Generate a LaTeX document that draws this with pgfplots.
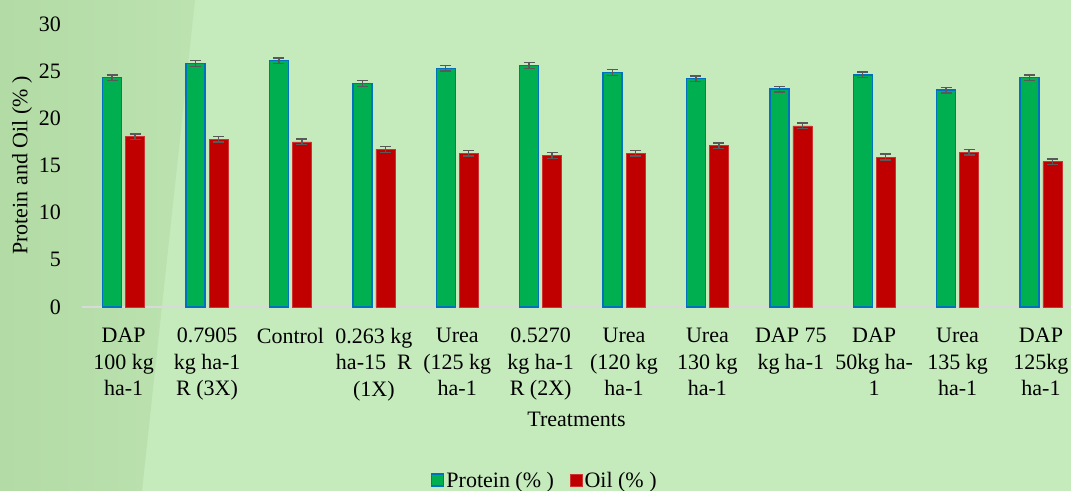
\documentclass[border=0pt]{standalone}
\usepackage{fontspec}
\setmainfont{Liberation Serif}
\usepackage{pgfplots}
\usepackage{pgfplotstable}
\pgfplotsset{compat=1.18}

\definecolor{protgreen}{HTML}{00B050}
\definecolor{protblue}{HTML}{0070C0}
\definecolor{oilred}{HTML}{C00000}
\definecolor{bgbase}{HTML}{C5EBBD}
\definecolor{bgdark}{HTML}{B3DBA5}
\definecolor{errgray}{HTML}{595959}
\definecolor{axgray}{HTML}{D9D9D9}

% treatment index, protein, error, oil, error
\pgfplotstableread{
i  prot  perr  oil    oerr
0  24.3  0.3   18.05  0.3
1  25.8  0.3   17.8   0.3
2  26.1  0.3   17.5   0.3
3  23.7  0.3   16.7   0.3
4  25.3  0.3   16.3   0.3
5  25.6  0.3   16.05  0.3
6  24.85 0.3   16.3   0.3
7  24.2  0.3   17.1   0.3
8  23.1  0.3   19.2   0.3
9  24.6  0.3   15.9   0.3
10 23.0  0.3   16.4   0.3
11 24.3  0.3   15.4   0.3
}\datatable

\newcommand{\chartfont}{\fontsize{22bp}{26.5bp}\selectfont}

\begin{document}
\begin{tikzpicture}
% background
\fill[bgbase] (-82bp,-184bp) rectangle (989bp,307bp);
\shade[left color=bgdark, right color=bgdark!55!bgbase]
  (-82bp,-184bp) -- (-82bp,307bp) -- (113bp,307bp) -- (60bp,-184bp) -- cycle;

\begin{axis}[
  scale only axis,
  width=989bp, height=283bp,
  ybar=4bp, bar width=19bp,
  xmin=-0.5, xmax=11.36,
  ymin=0, ymax=30,
  ytick={0,5,...,30},
  xtick=data,
  xticklabels={
    {DAP\\100 kg\\ha-1},
    {0.7905\\kg ha-1\\R (3X)},
    {Control},
    {0.263 kg\\ha-15~~R\\(1X)},
    {Urea\\(125 kg\\ha-1},
    {0.5270\\kg ha-1\\R (2X)},
    {Urea\\(120 kg\\ha-1},
    {Urea\\130 kg\\ha-1},
    {DAP 75\\kg ha-1},
    {DAP\\50kg ha-\\1},
    {Urea\\135 kg\\ha-1},
    {DAP\\125kg\\ha-1}},
  font=\chartfont,
  ticklabel style={font=\chartfont},
  /pgf/number format/assume math mode=true,
  xticklabel style={align=center, anchor=north, inner sep=0pt, yshift=-21bp},
  yticklabel style={anchor=east, inner sep=0pt, xshift=-21bp},
  major tick length=0pt,
  axis y line*=left,
  axis x line*=bottom,
  y axis line style={draw=none},
  x axis line style={draw=axgray, line width=1.5bp, -},
  xlabel={Treatments},
  ylabel={Protein and Oil (\% )},
  every axis x label/.style={at={(rel axis cs:0.5,0)}, anchor=base, yshift=-119bp},
  every axis y label/.style={at={(rel axis cs:0,0.5)}, xshift=-60bp, rotate=90, anchor=center},
  legend style={at={(0.468,-0.615)}, anchor=center, draw=none, fill=none,
    legend columns=2, font=\chartfont,
    /tikz/every even column/.append style={column sep=14bp}},
  legend image code/.code={\draw[#1] (0bp,-5bp) rectangle (12bp,7bp);},
  error bars/y dir=both,
  error bars/y explicit,
  error bars/error bar style={errgray, line width=1.4bp},
  error bars/error mark options={errgray, rotate=90, mark size=5.5bp, line width=1.4bp},
  clip=false,
]
\addplot[fill=protgreen, draw=protblue, line width=1.4bp]
  table[x=i, y=prot, y error=perr] {\datatable};
\addplot[fill=oilred, draw=oilred!80!white, line width=0.6bp]
  table[x=i, y=oil, y error=oerr] {\datatable};
\legend{Protein (\% ), Oil (\% )}
\end{axis}
\pgfresetboundingbox
\path (-82bp,-184bp) rectangle (989bp,307bp);
\end{tikzpicture}
\end{document}
